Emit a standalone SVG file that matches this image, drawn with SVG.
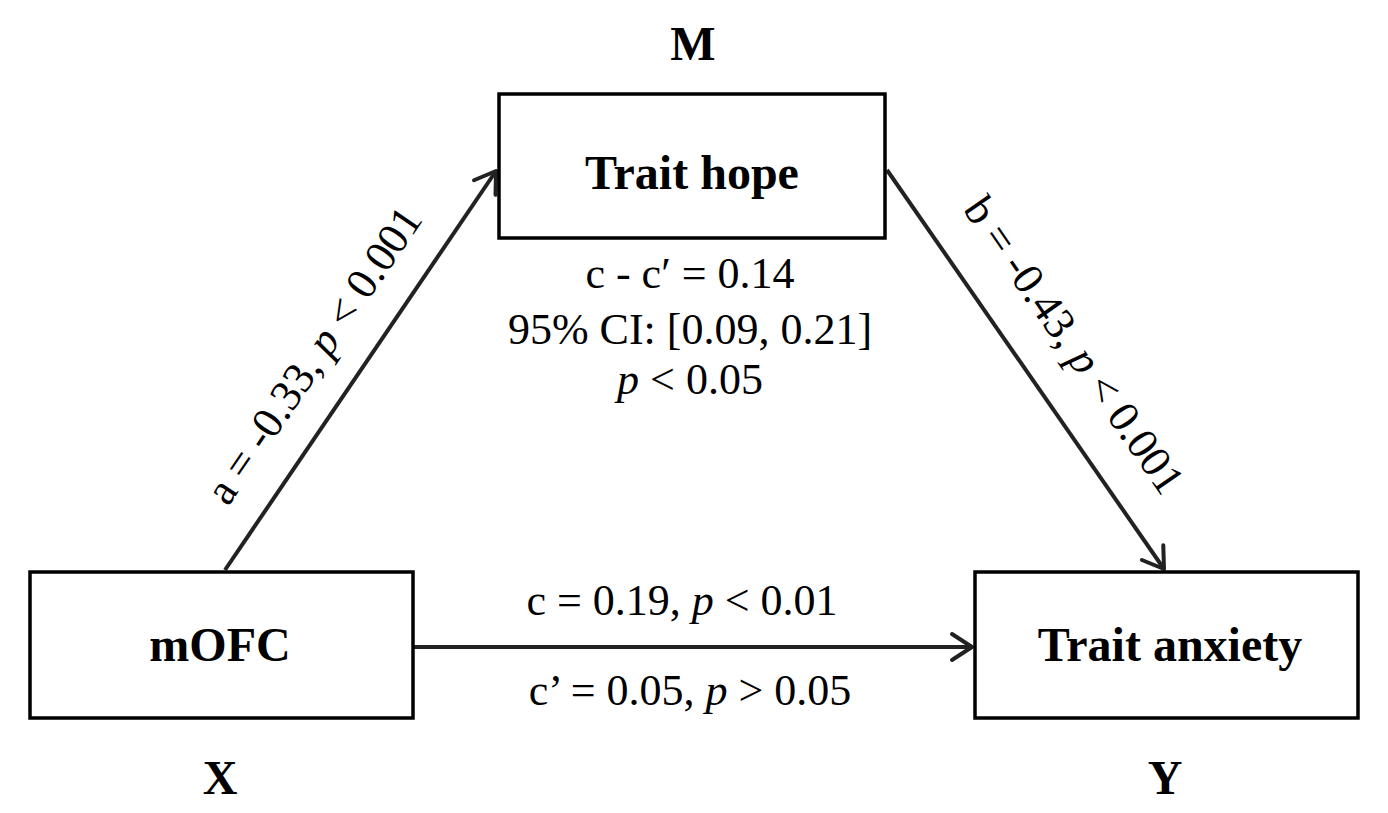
<svg xmlns="http://www.w3.org/2000/svg" width="1388" height="813" viewBox="0 0 1388 813">
<style>
.box{fill:#fff;stroke:#000;stroke-width:3.5}
.bold{font-family:"Liberation Serif",serif;font-weight:bold;font-size:48px;fill:#000;text-anchor:middle}
.reg{font-family:"Liberation Serif",serif;font-size:44px;fill:#000;text-anchor:middle}
.conn{stroke:#222;stroke-width:4;fill:none;marker-end:url(#arr)}
</style>
<defs>
<marker id="arr" markerUnits="userSpaceOnUse" viewBox="0 0 26 32" refX="23" refY="16" markerWidth="26" markerHeight="32" orient="auto">
<path d="M3,3 L23,16 L3,29" fill="none" stroke="#222" stroke-width="4" stroke-linecap="round" stroke-linejoin="round"/>
</marker>
</defs>
<rect width="1388" height="813" fill="#fff"/>
<g id="connectors">
<line class="conn" x1="225" y1="570" x2="496" y2="171"/>
<line class="conn" x1="887" y1="170" x2="1164" y2="569"/>
<line class="conn" x1="413" y1="647" x2="972" y2="647"/>
<text class="reg" transform="translate(315,356) rotate(-55.8)" y="13">a = -0.33, <tspan font-style="italic">p</tspan> &lt; 0.001</text>
<text class="reg" transform="translate(1073,346) rotate(55.2)" y="13">b = -0.43, <tspan font-style="italic">p</tspan> &lt; 0.001</text>
<text class="reg" x="682" y="615">c = 0.19, <tspan font-style="italic">p</tspan> &lt; 0.01</text>
<text class="reg" x="690" y="705">c’ = 0.05, <tspan font-style="italic">p</tspan> &gt; 0.05</text>
</g>
<g id="node-m">
<text class="bold" x="693" y="60">M</text>
<rect class="box" x="499" y="94" width="386" height="144"/>
<text class="bold" x="692" y="189">Trait hope</text>
<text class="reg" x="690" y="288">c - c′ =  0.14</text>
<text class="reg" x="690" y="344">95% CI: [0.09, 0.21]</text>
<text class="reg" x="690" y="394"><tspan font-style="italic">p</tspan> &lt; 0.05</text>
</g>
<g id="node-x">
<rect class="box" x="30" y="572" width="383" height="146"/>
<text class="bold" x="220" y="661">mOFC</text>
<text class="bold" x="220" y="794">X</text>
</g>
<g id="node-y">
<rect class="box" x="975" y="572" width="383" height="146"/>
<text class="bold" x="1170" y="661">Trait anxiety</text>
<text class="bold" x="1165" y="794">Y</text>
</g>
</svg>
